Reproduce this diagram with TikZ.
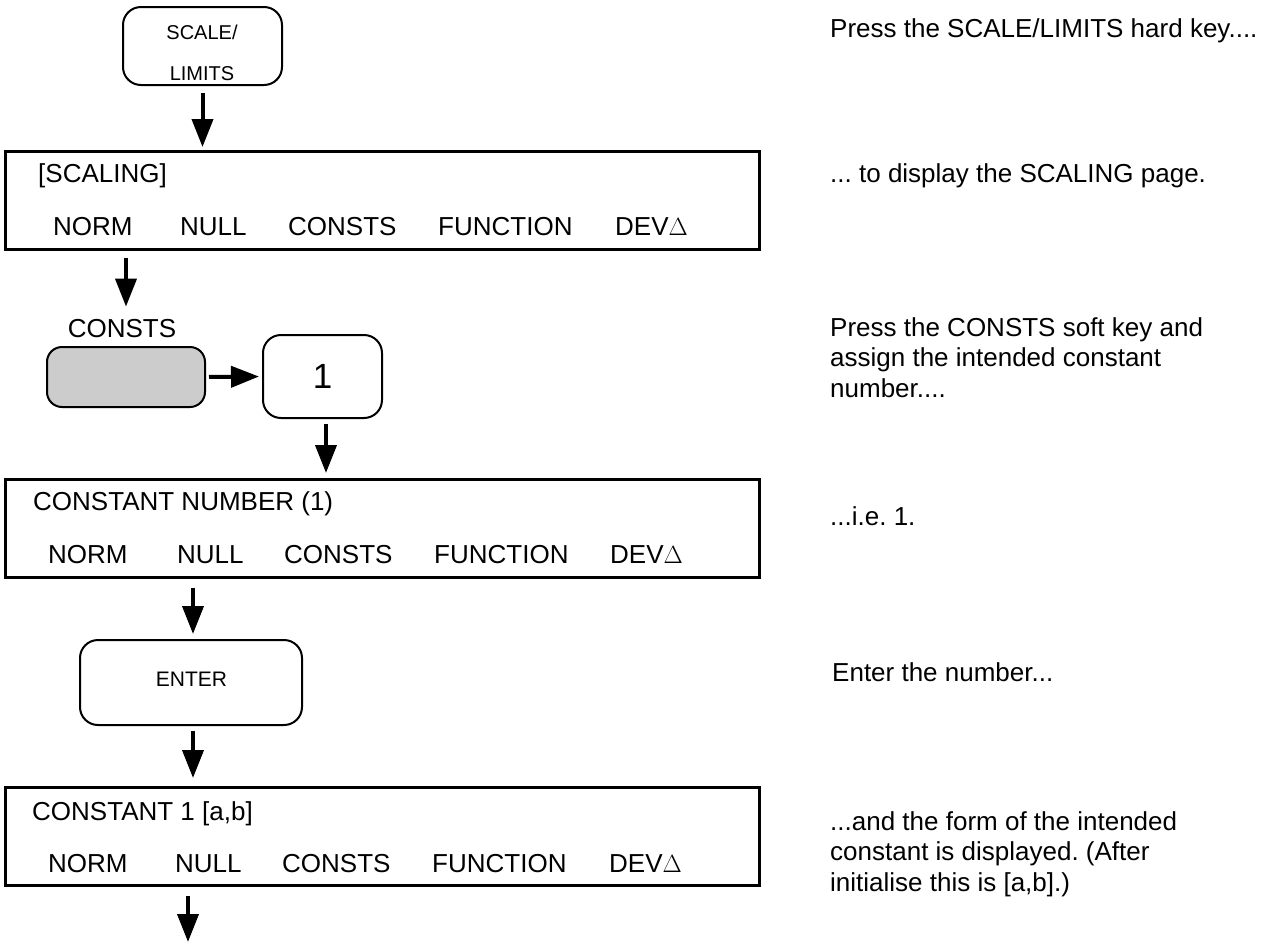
\documentclass[tikz,border=0pt]{standalone}
\usepackage{fontspec}
\setmainfont{Liberation Sans}
\usetikzlibrary{arrows.meta}
\definecolor{keygray}{RGB}{204,204,204}
\frenchspacing
\begin{document}
\begin{tikzpicture}[x=1pt,y=-1pt,
  key/.style={draw,line width=2pt,rounded corners=18pt,inner sep=0pt},
  disp/.style={draw,line width=2.5pt,inner sep=0pt,anchor=north west,minimum width=754pt,minimum height=98pt},
  big/.style={font=\fontsize{26}{30.5}\selectfont,inner sep=0pt},
  small/.style={font=\fontsize{20}{24}\selectfont,inner sep=0pt},
  word/.style={big,anchor=base west},
  note/.style={big,anchor=north west,align=left},
  arr/.style={line width=4pt,-{Triangle[width=21pt,length=28pt]}},
]
\useasboundingbox (0,0) rectangle (1287,943);

% SCALE/LIMITS hard key
\node[key,minimum width=159pt,minimum height=78pt] (sl) at (202.5,46) {};
\node[small,anchor=base] (slA) at (202,39) {SCALE/};
\node[small,anchor=base] (slB) at (202,80) {LIMITS};

% SCALING display
\node[disp] (d1) at (4,150) {};
\node[word] (d1h) at (38,182) {[SCALING]};
\node[word] (d1a) at (53,235) {NORM};
\node[word] (d1b) at (180,235) {NULL};
\node[word] (d1c) at (288,235) {CONSTS};
\node[word] (d1d) at (438,235) {FUNCTION};
\node[word] (d1e) at (615,235) {DEV$\Delta$};

% CONSTS soft key and number key
\node[big,anchor=base] (cl) at (122,337) {CONSTS};
\node[key,fill=keygray,rounded corners=15pt,minimum width=158pt,minimum height=60pt] (gk) at (126,377) {};
\node[key,minimum width=119pt,minimum height=83pt,font=\fontsize{35}{40}\selectfont] (one) at (322.5,376.5) {1};

% CONSTANT NUMBER display
\node[disp] (d2) at (4,478) {};
\node[word] (d2h) at (33,510) {CONSTANT NUMBER (1)};
\node[word] (d2a) at (48,563) {NORM};
\node[word] (d2b) at (177,563) {NULL};
\node[word] (d2c) at (284,563) {CONSTS};
\node[word] (d2d) at (434,563) {FUNCTION};
\node[word] (d2e) at (610,563) {DEV$\Delta$};

% ENTER key
\node[key,minimum width=222pt,minimum height=85pt] (en) at (191,682.5) {};
\node[small,font=\fontsize{21}{24}\selectfont,anchor=base] (enT) at (191.5,686) {ENTER};

% CONSTANT 1 display
\node[disp] (d3) at (4,786) {};
\node[word] (d3h) at (32,820) {CONSTANT 1 [a,b]};
\node[word] (d3a) at (48,872) {NORM};
\node[word] (d3b) at (175,872) {NULL};
\node[word] (d3c) at (282,872) {CONSTS};
\node[word] (d3d) at (432,872) {FUNCTION};
\node[word] (d3e) at (609,872) {DEV$\Delta$};
\coordinate (fin) at (188,942);

% connectors
\draw[arr] ([yshift=-7pt]sl.south) -- ([yshift=3pt]sl.south |- d1.north);
\draw[arr] ([yshift=-7pt]d1.south -| gk.north) -- ([yshift=12pt]gk.north |- cl.north);
\draw[arr,shorten <=3pt,shorten >=3pt] (gk.east) -- (one.west);
\draw[arr] ([xshift=3.5pt,yshift=-5pt]one.south) -- ([xshift=3.5pt,yshift=5pt]one.south |- d2.north);
\draw[arr] ([xshift=2pt,yshift=-9pt]d2.south -| en.north) -- ([xshift=2pt,yshift=5pt]en.north);
\draw[arr] ([xshift=2pt,yshift=-5pt]en.south) -- ([xshift=2pt,yshift=8pt]en.south |- d3.north);
\draw[arr] ([yshift=-9pt]d3.south -| fin) -- (fin);

% explanations
\node[big,anchor=base west] (t1) at (830,37) {Press the SCALE/LIMITS hard key....};
\node[big,anchor=base west] (t2) at (830,182) {... to display the SCALING page.};
\node[note] (t3) at (830,317) {Press the CONSTS soft key and\\assign the intended constant\\number....};
\node[big,anchor=base west] (t4) at (830,525) {...i.e. 1.};
\node[big,anchor=base west] (t5) at (832,681) {Enter the number...};
\node[note] (t6) at (830,811) {...and the form of the intended\\constant is displayed. (After\\initialise this is [a,b].)};
\end{tikzpicture}
\end{document}
